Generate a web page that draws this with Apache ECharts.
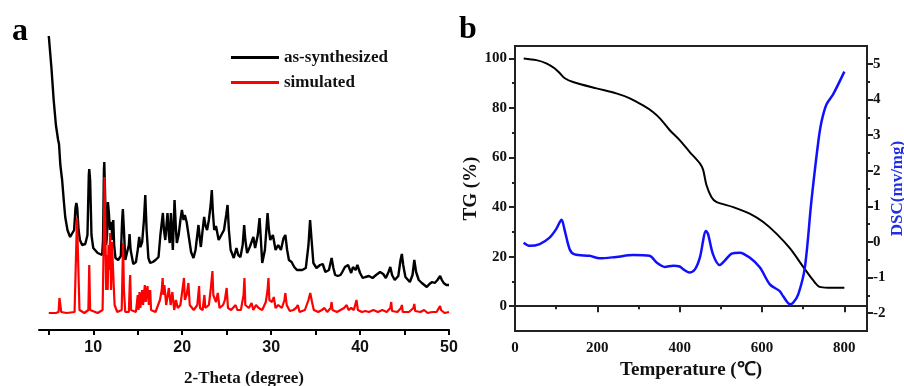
<!DOCTYPE html>
<html>
<head>
<meta charset="utf-8">
<script src="https://cdn.jsdelivr.net/npm/echarts@6/dist/echarts.min.js"></script>
<style>html,body{margin:0;padding:0;background:#fff}#c{width:904px;height:386px}</style>
</head>
<body>
<div id="c"></div>
<script>
// ---------- Panel a: XRD (2-Theta in degree, intensity in a.u.) ----------
const xrdTickValues = [5, 10, 15, 20, 25, 30, 35, 40, 45, 50];
const xrdLabelValues = [10, 20, 30, 40, 50];
const xrdLegend = ['as-synthesized', 'simulated'];
const asSynthesized = [
[5,294],[5.3,262],[5.55,230],[5.8,205],[6.05,190],[6.15,186],[6.3,165],[6.5,150],[6.7,128],[6.85,113],[7.1,100],[7.4,93],[7.6,91],[7.85,100],[8.0,122],[8.1,127],[8.2,122],[8.35,100],[8.5,90],[8.75,85],[9.1,86],[9.35,95],[9.5,155],[9.55,161],[9.65,150],[9.8,95],[10.0,82],[10.5,77],[11.0,75],[11.1,90],[11.2,160],[11.24,168],[11.32,140],[11.45,85],[11.55,95],[11.65,128],[11.75,118],[11.88,100],[11.97,108],[12.06,105],[12.15,90],[12.25,110],[12.35,85],[12.5,72],[12.8,70],[13.1,74],[13.25,110],[13.33,121],[13.45,100],[13.6,70],[13.8,68],[14.0,85],[14.08,96],[14.2,80],[14.5,66],[14.8,68],[15.0,80],[15.17,93],[15.3,83],[15.5,88],[15.7,110],[15.85,135],[16.0,100],[16.2,72],[16.4,67],[16.7,68],[17.0,70],[17.34,73],[17.55,95],[17.83,117],[17.95,100],[18.1,90],[18.35,117],[18.5,95],[18.6,87],[18.73,117],[18.85,95],[18.95,80],[19.14,130],[19.3,100],[19.4,87],[19.6,95],[19.8,110],[19.97,120],[20.15,110],[20.3,115],[20.5,108],[20.8,90],[21.0,78],[21.27,72],[21.5,80],[21.83,105],[22.0,90],[22.1,83],[22.3,100],[22.47,113],[22.6,105],[22.8,100],[23.0,110],[23.2,125],[23.33,140],[23.45,118],[23.6,100],[23.8,104],[24.1,90],[24.4,95],[24.7,100],[24.95,115],[25.1,125],[25.25,100],[25.45,80],[25.8,72],[26.1,82],[26.3,75],[26.55,73],[26.8,85],[26.97,105],[27.1,90],[27.3,77],[27.6,83],[28.0,93],[28.2,82],[28.5,95],[28.7,112],[28.85,90],[29.0,67],[29.3,80],[29.6,117],[29.75,100],[29.9,90],[30.2,95],[30.5,80],[30.8,85],[31.1,80],[31.4,92],[31.6,95],[31.8,80],[32.0,70],[32.3,68],[32.6,63],[32.9,60],[33.1,58],[33.5,60],[33.9,62],[34.2,85],[34.38,110],[34.55,90],[34.75,67],[35.1,62],[35.5,65],[35.8,66],[36.1,58],[36.5,60],[36.8,72],[37.0,62],[37.2,55],[37.5,54],[37.8,55],[38.0,58],[38.3,63],[38.5,62],[38.65,65],[39.0,57],[39.2,63],[39.5,60],[39.7,65],[40.0,57],[40.3,52],[40.6,53],[41.0,54],[41.4,52],[41.8,55],[42.25,58],[42.6,56],[42.9,52],[43.2,58],[43.4,63],[43.6,55],[43.9,50],[44.3,54],[44.55,70],[44.7,76],[44.85,65],[45.1,53],[45.6,48],[45.9,55],[46.1,70],[46.3,58],[46.6,50],[46.95,47],[47.5,43],[47.8,46],[48.1,48],[48.4,47],[48.7,50],[49.0,54],[49.2,50],[49.4,47],[49.7,45],[50,45]
];
const simulated = [
[5,17],[5.8,17],[6.1,18],[6.2,32],[6.3,32],[6.4,18],[7.0,17],[7.9,18],[8.05,70],[8.17,112],[8.3,70],[8.45,20],[9.0,17],[9.45,20],[9.55,65],[9.65,20],[10.5,17],[11.05,20],[11.2,100],[11.27,153],[11.35,110],[11.45,40],[11.55,75],[11.62,40],[11.72,85],[11.8,60],[11.9,97],[12.0,40],[12.1,88],[12.2,90],[12.3,45],[12.4,25],[12.7,18],[13.2,20],[13.35,87],[13.45,40],[13.6,18],[14.0,18],[14.1,45],[14.15,55],[14.25,20],[14.8,18],[15.0,35],[15.1,20],[15.2,38],[15.3,22],[15.5,40],[15.6,25],[15.8,45],[15.9,28],[16.1,44],[16.25,25],[16.4,40],[16.5,20],[17.0,18],[17.5,30],[17.7,40],[17.8,52],[17.9,35],[18.0,45],[18.2,25],[18.5,42],[18.7,25],[18.9,38],[19.1,20],[19.3,30],[19.5,22],[19.8,25],[20.1,45],[20.2,52],[20.3,30],[20.5,35],[20.7,47],[20.85,25],[21.3,20],[21.7,25],[21.9,44],[22.0,22],[22.3,20],[22.5,35],[22.6,22],[23.0,25],[23.2,40],[23.4,59],[23.5,35],[23.8,28],[24.0,37],[24.2,22],[24.6,25],[24.8,30],[25.0,42],[25.15,22],[25.5,20],[26.0,25],[26.2,20],[26.6,20],[26.9,35],[27.0,52],[27.1,25],[27.5,22],[27.8,27],[28.0,20],[28.3,25],[28.6,22],[29.0,20],[29.4,28],[29.6,40],[29.7,52],[29.8,30],[30.1,28],[30.3,33],[30.5,22],[30.8,25],[31.2,22],[31.5,30],[31.6,37],[31.75,25],[32.1,19],[32.5,20],[32.8,22],[33.0,25],[33.2,18],[33.8,20],[34.2,30],[34.4,37],[34.6,28],[34.8,20],[35.3,18],[35.7,20],[36.0,22],[36.3,18],[36.7,22],[36.8,28],[36.9,20],[37.4,18],[37.8,20],[38.2,22],[38.5,25],[38.7,20],[39.0,22],[39.3,20],[39.6,30],[39.75,20],[40.2,18],[40.6,19],[41.0,18],[41.5,20],[42.0,18],[42.5,20],[43.0,18],[43.4,22],[43.5,28],[43.6,19],[44.2,18],[44.6,22],[44.7,25],[44.8,18],[45.5,18],[46.0,22],[46.1,26],[46.2,19],[46.8,18],[47.2,20],[47.6,17],[48.1,18],[48.6,18],[49.0,24],[49.1,20],[49.5,17],[50,18]
];

// ---------- Panel b: TG / DSC ----------
const tempMajorTicks = [0, 200, 400, 600, 800];
const tempMinorTicks = [100, 300, 500, 700];
const tgMajorTicks = [0, 20, 40, 60, 80, 100];
const tgMinorTicks = [10, 30, 50, 70, 90];
const dscMajorTicks = [-2, -1, 0, 1, 2, 3, 4, 5];
const dscMinorTicks = [-1.5, -0.5, 0.5, 1.5, 2.5, 3.5, 4.5];
const tgCurve = [
[21,100],[52,99.3],[76,98],[96,96],[109,94],[121,92],[141,90.5],[198,87.9],[246,85.9],[279,83.9],[311,81],[335,78.4],[352,75.8],[376,71],[400,67],[424,62.3],[449,57.6],[457,55],[465,48.9],[477,44.1],[489,42.1],[530,40],[570,37.4],[603,34],[635,29.3],[668,23.3],[700,15.9],[724,10.5],[740,7.8],[760,7.5],[800,7.5]
];
const dscCurve = [
[21,-0.02],[36,-0.11],[60,-0.06],[84,0.12],[100,0.36],[113,0.62],[121,0.31],[133,-0.21],[145,-0.35],[181,-0.39],[206,-0.46],[246,-0.42],[287,-0.37],[327,-0.39],[344,-0.58],[364,-0.70],[384,-0.67],[400,-0.69],[409,-0.77],[423,-0.86],[437,-0.77],[449,-0.44],[464,0.31],[469,0.22],[481,-0.35],[497,-0.65],[509,-0.53],[526,-0.33],[546,-0.30],[570,-0.44],[595,-0.72],[619,-1.19],[643,-1.38],[651,-1.52],[668,-1.75],[676,-1.70],[688,-1.47],[704,-0.72],[720,1.15],[737,2.84],[745,3.40],[757,3.87],[773,4.15],[800,4.78]
];

const serif = '"Liberation Serif","Times New Roman",serif';
const sans = '"Liberation Sans",Arial,sans-serif';
const ink = '#111';

const chart = echarts.init(document.getElementById('c'), null, {renderer: 'canvas'});
chart.setOption({
  animation: false,
  backgroundColor: '#fff',
  graphic: [
    {type: 'text', left: 12, top: 16, style: {text: 'a', font: 'bold 32px ' + serif, fill: '#000'}},
    {type: 'text', left: 459, top: 14, style: {text: 'b', font: 'bold 32px ' + serif, fill: '#000'}}
  ],
  legend: {
    data: xrdLegend,
    orient: 'vertical',
    icon: 'rect',
    left: 226, top: 44,
    itemWidth: 48, itemHeight: 3, itemGap: 8,
    textStyle: {fontFamily: serif, fontWeight: 'bold', fontSize: 17, color: ink}
  },
  grid: [
    {left: 39, right: 455, top: 30, bottom: 56, outerBoundsMode: 'none', containLabel: false},
    {left: 515, right: 37, top: 46, bottom: 55, outerBoundsMode: 'none', containLabel: false, show: true, borderColor: '#222', borderWidth: 2, backgroundColor: 'transparent'}
  ],
  xAxis: [
    {
      gridIndex: 0, type: 'value', min: 3.9, max: 50,
      axisLine: {lineStyle: {color: '#000', width: 2}},
      axisTick: {customValues: xrdTickValues, length: 5, lineStyle: {color: '#000', width: 2}},
      axisLabel: {customValues: xrdLabelValues, fontFamily: sans, fontWeight: 'bold', fontSize: 16, color: ink, margin: 10},
      splitLine: {show: false},
      name: '2-Theta (degree)', nameLocation: 'middle', nameGap: 40,
      nameTextStyle: {fontFamily: serif, fontWeight: 'bold', fontSize: 17, color: ink}
    },
    {
      gridIndex: 1, type: 'value', min: 0, max: 855, position: 'bottom',
      axisLine: {lineStyle: {color: '#222', width: 2}},
      axisTick: {customValues: tempMajorTicks, length: 6, lineStyle: {color: '#222', width: 2}},
      axisLabel: {customValues: tempMajorTicks, fontFamily: serif, fontWeight: 'bold', fontSize: 15, color: ink, margin: 10},
      splitLine: {show: false},
      name: 'Temperature (℃)', nameLocation: 'middle', nameGap: 29,
      nameTextStyle: {fontFamily: serif, fontWeight: 'bold', fontSize: 19, color: ink}
    },
    {
      gridIndex: 1, type: 'value', min: 0, max: 855, position: 'bottom',
      axisLine: {show: false},
      axisTick: {customValues: tempMinorTicks, length: 3, lineStyle: {color: '#222', width: 2}},
      axisLabel: {show: false}, splitLine: {show: false}
    }
  ],
  yAxis: [
    {gridIndex: 0, type: 'value', min: 0, max: 300, show: false},
    {
      gridIndex: 1, type: 'value', min: -10, max: 105, position: 'left',
      axisLine: {show: true, lineStyle: {color: '#222', width: 2}},
      axisTick: {show: true, customValues: tgMajorTicks, length: 6, lineStyle: {color: '#222', width: 2}},
      axisLabel: {customValues: tgMajorTicks, fontFamily: serif, fontWeight: 'bold', fontSize: 15, color: ink, margin: 8},
      splitLine: {show: false},
      name: 'TG (%)', nameLocation: 'middle', nameGap: 34, nameRotate: 90,
      nameTextStyle: {fontFamily: serif, fontWeight: 'bold', fontSize: 19, color: ink}
    },
    {
      gridIndex: 1, type: 'value', min: -10, max: 105, position: 'left',
      axisLine: {show: false},
      axisTick: {show: true, customValues: tgMinorTicks, length: 3, lineStyle: {color: '#222', width: 2}},
      axisLabel: {show: false}, splitLine: {show: false}
    },
    {
      gridIndex: 1, type: 'value', min: -2.5, max: 5.5, position: 'right',
      axisLine: {show: true, lineStyle: {color: '#222', width: 2}},
      axisTick: {show: true, customValues: dscMajorTicks, length: 6, lineStyle: {color: '#222', width: 2}},
      axisLabel: {customValues: dscMajorTicks, fontFamily: serif, fontWeight: 'bold', fontSize: 15, color: ink, margin: 6},
      splitLine: {show: false},
      name: 'DSC(mv/mg)', nameLocation: 'middle', nameGap: 22, nameRotate: 90,
      nameTextStyle: {fontFamily: serif, fontWeight: 'bold', fontSize: 17, color: '#1f2fe6'}
    },
    {
      gridIndex: 1, type: 'value', min: -2.5, max: 5.5, position: 'right',
      axisLine: {show: false},
      axisTick: {show: true, customValues: dscMinorTicks, length: 3, lineStyle: {color: '#222', width: 2}},
      axisLabel: {show: false}, splitLine: {show: false}
    }
  ],
  series: [
    {name: xrdLegend[0], type: 'line', xAxisIndex: 0, yAxisIndex: 0, data: asSynthesized, symbol: 'none', lineStyle: {color: '#000', width: 2.4}, itemStyle: {color: '#000'}},
    {name: xrdLegend[1], type: 'line', xAxisIndex: 0, yAxisIndex: 0, data: simulated, symbol: 'none', lineStyle: {color: '#ff0000', width: 2.2}, itemStyle: {color: '#ff0000'}},
    {name: 'TG', type: 'line', xAxisIndex: 1, yAxisIndex: 1, data: tgCurve, symbol: 'none', smooth: 0.3, lineStyle: {color: '#000', width: 2}},
    {name: 'DSC', type: 'line', xAxisIndex: 1, yAxisIndex: 3, data: dscCurve, symbol: 'none', smooth: 0.3, lineStyle: {color: '#1010ff', width: 2.5}}
  ]
});
</script>
</body>
</html>
